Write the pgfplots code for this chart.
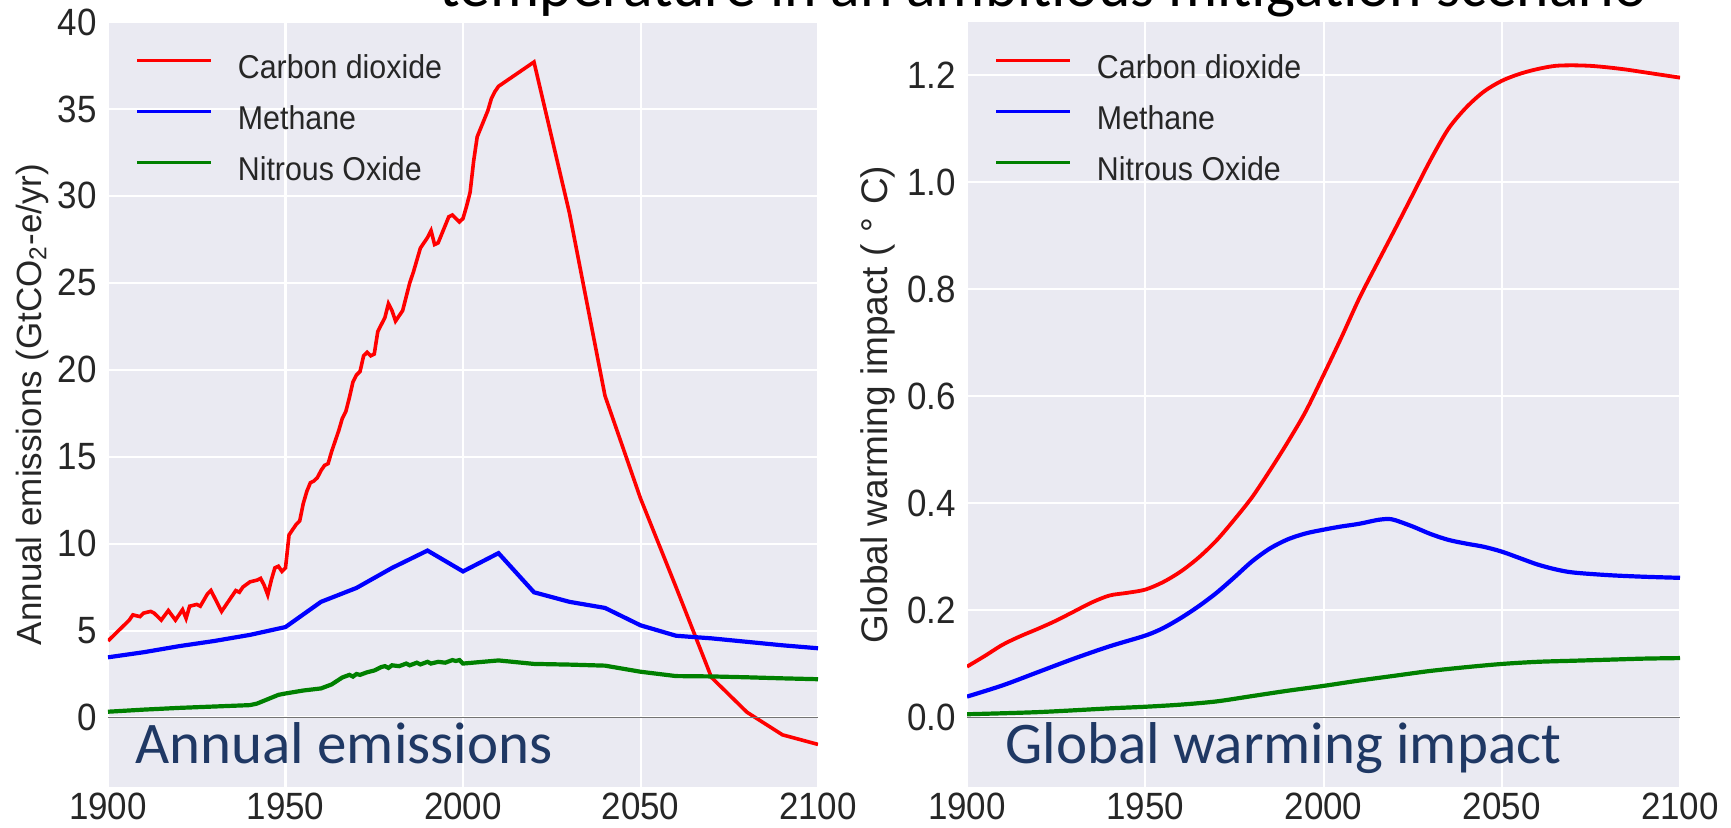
\documentclass[border=0pt]{standalone}
\usepackage{fontspec}
\setmainfont{Liberation Sans}[FakeStretch=0.92]
\newfontfamily\labfont{Liberation Sans}
\newfontfamily\calib{Carlito}
\usepackage{pgfplots}
\pgfplotsset{compat=1.18}

\definecolor{bgc}{HTML}{EAEAF2}
\definecolor{txt}{HTML}{262626}
\definecolor{navy}{RGB}{31,56,100}
\definecolor{cored}{HTML}{FF0000}
\definecolor{meblue}{HTML}{0000FF}
\definecolor{nogreen}{HTML}{008000}

\pgfplotsset{
  sns/.style={
    scale only axis,
    anchor=south west,
    height=382.5pt,
    xmin=1900, xmax=2100,
    xtick={1900,1950,2000,2050,2100},
    axis background/.style={fill=bgc},
    axis line style={draw=none},
    major tick length=0pt,
    grid=major,
    major grid style={white, line width=1pt},
    tick label style={font=\fontsize{19}{22}\selectfont, color=txt},
    xticklabel style={inner sep=0pt, yshift=-3pt},
    yticklabel style={inner sep=0pt, xshift=-5.5pt},
    /pgf/number format/1000 sep={},
    /pgf/number format/assume math mode=true,
    ylabel style={font=\labfont\fontsize{17.5}{20}\selectfont, color=txt, anchor=center},
    legend cell align=left,
    legend style={draw=none, fill=none, anchor=north west,
      font=\fontsize{16.5}{19}\selectfont, text=txt,
      row sep=10pt,
      nodes={inner sep=0pt, text height=12pt, text depth=3.5pt},
      /tikz/every odd column/.append style={column sep=12.5pt}},
    legend image code/.code={\draw[#1, line width=1.6pt] (0pt,5pt) -- (37pt,5pt);},
  }
}

\begin{document}
\begin{tikzpicture}
\clip (0,0) rectangle (865.5pt,413.5pt);

\node[anchor=base, inner sep=0pt, font=\calib\fontsize{30.8}{32}\selectfont] at (521.75pt,410pt)
  {temperature in an ambitious mitigation scenario};

% ---- left: annual emissions ----
\begin{axis}[sns,
  at={(54pt,20pt)}, width=355pt,
  ymin=-4, ymax=40,
  ytick={0,5,10,15,20,25,30,35,40},
  ylabel={Annual emissions (GtCO\textsubscript{2}-e/yr)},
  ylabel style={at={(axis description cs:-0.107,0.5)}},
  legend style={at={(axis description cs:0.03,0.963)}},
]
\addplot[cored, line width=1.8pt] coordinates {
(1900,4.4) (1902,4.8) (1904,5.2) (1906,5.6) (1907,5.9) (1909,5.8) (1910,6.0)
(1912,6.1) (1913,6.0) (1914,5.8) (1915,5.6) (1917,6.15) (1919,5.6) (1920,5.9)
(1921,6.2) (1922,5.7) (1923,6.4) (1925,6.5) (1926,6.4) (1928,7.1) (1929,7.3)
(1930,6.9) (1932,6.1) (1934,6.7) (1936,7.3) (1937,7.2) (1938,7.5) (1940,7.8)
(1942,7.9) (1943,8.0) (1944,7.6) (1945,7.05) (1946,7.9) (1947,8.6) (1948,8.7)
(1949,8.4) (1950,8.6) (1951,10.5) (1952,10.8) (1953,11.1) (1954,11.3) (1955,12.3)
(1956,13.0) (1957,13.5) (1958,13.6) (1959,13.8) (1960,14.2) (1961,14.5) (1962,14.6)
(1963,15.3) (1964,15.9) (1965,16.5) (1966,17.2) (1967,17.6) (1968,18.4) (1969,19.3)
(1970,19.7) (1971,19.9) (1972,20.8) (1973,21.0) (1974,20.8) (1975,20.9) (1976,22.2)
(1977,22.6) (1978,23.0) (1979,23.8) (1980,23.4) (1981,22.8) (1982,23.1) (1983,23.4)
(1984,24.2) (1985,25.0) (1986,25.6) (1987,26.3) (1988,27.0) (1989,27.3) (1990,27.6)
(1991,28.0) (1992,27.2) (1993,27.3) (1994,27.8) (1995,28.3) (1996,28.8) (1997,28.9)
(1998,28.7) (1999,28.5) (2000,28.7) (2001,29.4) (2002,30.2) (2003,32.0) (2004,33.4)
(2005,33.9) (2006,34.4) (2007,34.9) (2008,35.6) (2009,36.0) (2010,36.3)
(2020,37.7) (2030,29.0) (2040,18.5) (2050,12.6) (2060,7.5) (2070,2.3)
(2080,0.3) (2090,-1.0) (2100,-1.55)
};
\addlegendentry{Carbon dioxide}
\addplot[meblue, line width=2.1pt] coordinates {
(1900,3.46) (1910,3.75) (1920,4.1) (1930,4.4) (1940,4.75) (1950,5.2) (1960,6.65)
(1970,7.45) (1980,8.6) (1990,9.6) (2000,8.4) (2010,9.45) (2020,7.2) (2030,6.65)
(2040,6.3) (2050,5.3) (2060,4.7) (2070,4.55) (2080,4.35) (2090,4.15) (2100,3.98)
};
\addlegendentry{Methane}
\addplot[nogreen, line width=2.1pt] coordinates {
(1900,0.33) (1910,0.45) (1920,0.55) (1930,0.63) (1940,0.71) (1942,0.8) (1945,1.05)
(1948,1.3) (1950,1.38) (1955,1.55) (1960,1.67) (1963,1.9) (1966,2.3) (1968,2.45)
(1969,2.35) (1970,2.5) (1971,2.45) (1973,2.6) (1975,2.7) (1977,2.9) (1978,2.95)
(1979,2.85) (1980,3.0) (1982,2.95) (1984,3.1) (1985,3.0) (1987,3.15) (1988,3.05)
(1990,3.2) (1991,3.1) (1993,3.2) (1995,3.15) (1997,3.3) (1998,3.25) (1999,3.3)
(2000,3.1) (2010,3.28) (2020,3.08) (2030,3.04) (2040,2.98) (2050,2.63) (2060,2.38)
(2070,2.36) (2080,2.31) (2090,2.25) (2100,2.2)
};
\addlegendentry{Nitrous Oxide}
\addplot[black!55, line width=0.8pt, forget plot] coordinates {(1900,0) (2100,0)};
\end{axis}

% ---- right: global warming impact ----
\begin{axis}[sns,
  at={(483.5pt,20pt)}, width=356.5pt,
  ymin=-0.13, ymax=1.3,
  ytick={0,0.2,0.4,0.6,0.8,1.0,1.2},
  yticklabel style={/pgf/number format/fixed, /pgf/number format/fixed zerofill,
    /pgf/number format/precision=1},
  ylabel={Global warming impact (\,\,°\,\,C)},
  ylabel style={at={(axis description cs:-0.125,0.5)}, font=\labfont\fontsize{18.5}{20}\selectfont},
  legend style={at={(axis description cs:0.03,0.963)}},
]
\addplot[cored, line width=1.9pt, smooth] coordinates {
(1900,0.095) (1905,0.115) (1910,0.136) (1915,0.152) (1920,0.166) (1925,0.181)
(1930,0.198) (1935,0.215) (1940,0.228) (1945,0.233) (1950,0.239) (1955,0.253)
(1960,0.273) (1965,0.299) (1970,0.331) (1975,0.370) (1980,0.412) (1985,0.462)
(1990,0.515) (1995,0.572) (2000,0.640) (2005,0.710) (2010,0.783) (2015,0.848)
(2020,0.912) (2025,0.977) (2030,1.042) (2035,1.100) (2040,1.140) (2045,1.170)
(2050,1.190) (2055,1.203) (2060,1.212) (2065,1.218) (2070,1.219) (2075,1.218)
(2080,1.215) (2085,1.211) (2090,1.206) (2095,1.201) (2100,1.196)
};
\addlegendentry{Carbon dioxide}
\addplot[meblue, line width=2.1pt, smooth] coordinates {
(1900,0.039) (1910,0.060) (1920,0.085) (1930,0.110) (1940,0.133) (1950,0.153)
(1955,0.167) (1960,0.186) (1965,0.208) (1970,0.233) (1975,0.262) (1980,0.292)
(1985,0.316) (1990,0.333) (1995,0.344) (2000,0.351) (2005,0.357) (2010,0.362)
(2015,0.369) (2018,0.371) (2020,0.369) (2025,0.357) (2030,0.343) (2035,0.332)
(2040,0.325) (2045,0.319) (2050,0.310) (2055,0.298) (2060,0.286) (2065,0.277)
(2070,0.271) (2080,0.266) (2090,0.263) (2100,0.261)
};
\addlegendentry{Methane}
\addplot[nogreen, line width=2.1pt, smooth] coordinates {
(1900,0.006) (1920,0.010) (1940,0.017) (1950,0.020) (1960,0.024) (1970,0.030)
(1980,0.040) (1990,0.050) (2000,0.059) (2010,0.069) (2020,0.078) (2030,0.087)
(2040,0.094) (2050,0.100) (2060,0.104) (2070,0.106) (2080,0.108) (2090,0.110)
(2100,0.111)
};
\addlegendentry{Nitrous Oxide}
\addplot[black!55, line width=0.8pt, forget plot] coordinates {(1900,0) (2100,0)};
\end{axis}

\node[anchor=base west, inner sep=0pt, text=navy, font=\calib\fontsize{29.5}{32}\selectfont]
  at (67.5pt,32pt) {Annual emissions};
\node[anchor=base west, inner sep=0pt, text=navy, font=\calib\fontsize{29.5}{32}\selectfont]
  at (502.5pt,32pt) {Global warming impact};
\end{tikzpicture}
\end{document}
